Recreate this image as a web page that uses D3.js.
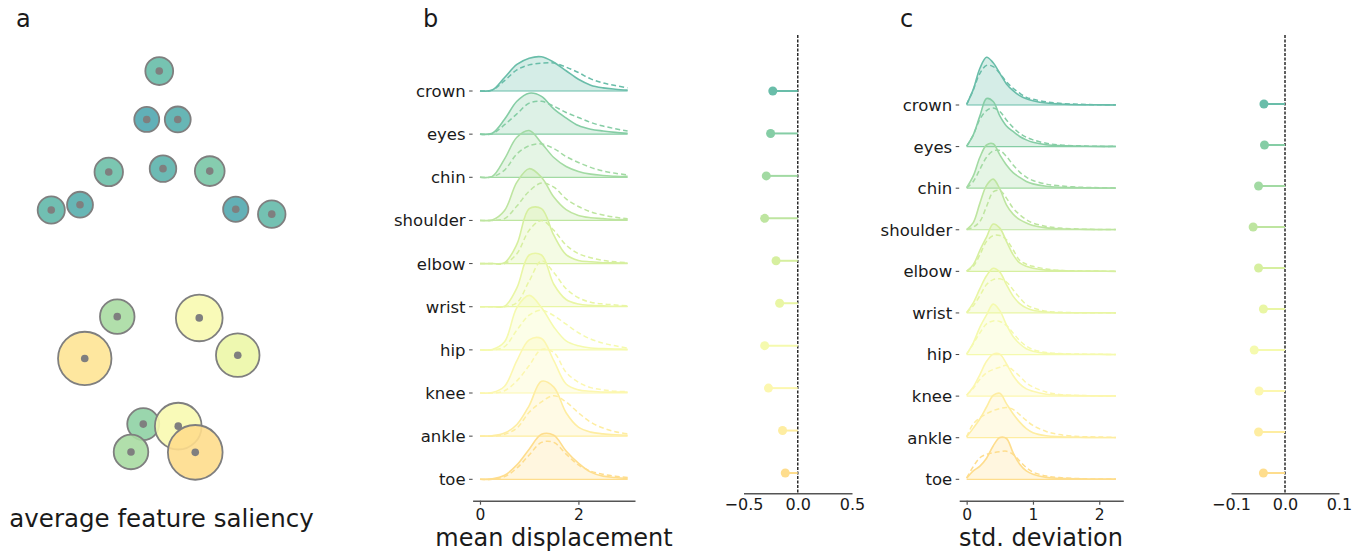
<!DOCTYPE html>
<html>
<head>
<meta charset="utf-8">
<script src="https://cdn.jsdelivr.net/npm/d3@7"></script>
<style>
  html, body { margin: 0; padding: 0; background: #fff; }
  svg { display: block; font-family: "DejaVu Sans", sans-serif; }
</style>
</head>
<body>
<svg id="fig" width="1367" height="552"></svg>
<script>
// ---------- data ----------
const rows = ["crown", "eyes", "chin", "shoulder", "elbow", "wrist", "hip", "knee", "ankle", "toe"];

// keypoint layout (arbitrary pose units) and average saliency per keypoint
const kpX = [47.7, 42.7, 55.1, 27.5, 49.2, 67.9, 4.5, 16.0, 78.3, 92.7, 30.9, 17.9, 63.7, 79.1, 41.3, 36.4, 55.3, 62.1];
const kpY = [2.7, 14.5, 14.5, 27.3, 26.5, 27.1, 36.6, 35.3, 36.4, 37.6, 62.6, 72.8, 62.9, 72.0, 88.8, 95.6, 89.3, 95.7];
const saliency = [0.12, 0.03, 0.06, 0.14, 0.08, 0.18, 0.10, 0.06, 0.04, 0.11, 0.33, 0.92, 0.71, 0.61, 0.25, 0.33, 0.71, 0.96];

// mean displacement: density grid and densities (solid = observed, dashed = reference)
const dispGrid = [0, 0.25, 0.5, 0.75, 1.0, 1.25, 1.5, 1.75, 2.0, 2.25, 2.5, 2.75, 3.0];
const dispDensity = [
  [0, 0.02, 0.30, 0.59, 0.73, 0.76, 0.64, 0.45, 0.26, 0.13, 0.07, 0.04, 0.02],
  [0, 0.02, 0.33, 0.73, 0.91, 0.84, 0.56, 0.36, 0.19, 0.11, 0.07, 0.04, 0.02],
  [0, 0.02, 0.41, 0.89, 1.04, 0.76, 0.44, 0.24, 0.13, 0.07, 0.04, 0.02, 0.02],
  [0, 0.01, 0.22, 0.85, 1.15, 0.96, 0.52, 0.24, 0.11, 0.06, 0.04, 0.02, 0.02],
  [0, 0, 0.02, 0.43, 1.22, 1.22, 0.63, 0.20, 0.07, 0.04, 0.02, 0.02, 0.01],
  [0, 0, 0.01, 0.42, 1.15, 1.15, 0.50, 0.16, 0.06, 0.03, 0.02, 0.01, 0.01],
  [0, 0.01, 0.18, 0.94, 1.21, 0.94, 0.51, 0.20, 0.09, 0.04, 0.03, 0.02, 0.01],
  [0, 0.01, 0.15, 0.72, 1.18, 1.21, 0.72, 0.20, 0.07, 0.04, 0.02, 0.02, 0.02],
  [0, 0.01, 0.07, 0.26, 0.68, 1.22, 1.09, 0.52, 0.20, 0.09, 0.05, 0.03, 0.02],
  [0, 0.01, 0.09, 0.32, 0.67, 1.00, 0.98, 0.63, 0.36, 0.16, 0.07, 0.04, 0.02]
];
const dispDensityRef = [
  [0, 0.02, 0.23, 0.47, 0.58, 0.62, 0.62, 0.53, 0.41, 0.27, 0.18, 0.12, 0.07],
  [0, 0.01, 0.21, 0.45, 0.69, 0.73, 0.62, 0.48, 0.37, 0.26, 0.18, 0.12, 0.07],
  [0, 0.01, 0.16, 0.52, 0.70, 0.74, 0.64, 0.46, 0.33, 0.22, 0.14, 0.09, 0.05],
  [0, 0, 0.04, 0.32, 0.65, 0.83, 0.74, 0.48, 0.31, 0.19, 0.12, 0.07, 0.04],
  [0, 0, 0, 0.22, 0.74, 0.96, 0.74, 0.41, 0.22, 0.13, 0.07, 0.04, 0.02],
  [0, 0, 0, 0.09, 0.57, 1.02, 0.76, 0.40, 0.20, 0.10, 0.06, 0.04, 0.02],
  [0, 0, 0.07, 0.44, 0.77, 0.88, 0.76, 0.57, 0.38, 0.24, 0.15, 0.09, 0.04],
  [0, 0, 0.05, 0.27, 0.61, 0.97, 0.90, 0.46, 0.24, 0.12, 0.07, 0.04, 0.03],
  [0, 0, 0.04, 0.18, 0.53, 0.76, 0.90, 0.76, 0.52, 0.31, 0.18, 0.10, 0.05],
  [0, 0, 0.06, 0.25, 0.54, 0.82, 0.82, 0.56, 0.32, 0.18, 0.11, 0.07, 0.04]
];

// std. deviation: density grid and densities
const sdGrid = [0, 0.1, 0.2, 0.3, 0.4, 0.5, 0.6, 0.7, 0.8, 0.9, 1.0, 1.2, 1.4, 1.7, 2.0, 2.25];
const sdDensity = [
  [0.03, 0.65, 1.53, 1.99, 1.76, 1.32, 0.88, 0.60, 0.39, 0.26, 0.18, 0.08, 0.04, 0.01, 0.01, 0.00],
  [0.02, 0.49, 1.28, 2.00, 1.88, 1.28, 0.86, 0.63, 0.42, 0.28, 0.18, 0.08, 0.04, 0.02, 0.01, 0.01],
  [0.02, 0.51, 1.29, 1.80, 1.85, 1.39, 0.97, 0.65, 0.45, 0.28, 0.18, 0.08, 0.04, 0.02, 0.01, 0.01],
  [0.01, 0.30, 1.11, 1.85, 2.11, 1.70, 1.04, 0.65, 0.42, 0.28, 0.18, 0.08, 0.04, 0.02, 0.01, 0.01],
  [0.01, 0.28, 0.88, 1.43, 1.97, 1.80, 1.25, 0.70, 0.35, 0.21, 0.13, 0.05, 0.03, 0.01, 0.01, 0.00],
  [0.02, 0.42, 1.01, 1.55, 1.86, 1.70, 1.18, 0.70, 0.39, 0.21, 0.11, 0.04, 0.01, 0.01, 0.01, 0.00],
  [0.02, 0.49, 1.14, 1.65, 2.10, 1.83, 1.24, 0.75, 0.45, 0.24, 0.14, 0.05, 0.03, 0.01, 0.01, 0.00],
  [0.04, 0.38, 0.90, 1.45, 1.75, 1.75, 1.35, 0.86, 0.51, 0.30, 0.20, 0.08, 0.04, 0.02, 0.01, 0.01],
  [0.04, 0.40, 0.79, 1.28, 1.76, 1.85, 1.42, 1.00, 0.65, 0.38, 0.21, 0.08, 0.04, 0.02, 0.01, 0.01],
  [0.04, 0.35, 0.55, 0.88, 1.39, 1.74, 1.70, 1.11, 0.63, 0.35, 0.21, 0.08, 0.04, 0.02, 0.01, 0.01]
];
const sdDensityRef = [
  [0.02, 0.63, 1.32, 1.65, 1.60, 1.32, 0.97, 0.70, 0.49, 0.32, 0.24, 0.13, 0.07, 0.03, 0.01, 0.01],
  [0.01, 0.49, 1.14, 1.50, 1.61, 1.46, 1.11, 0.80, 0.55, 0.39, 0.28, 0.14, 0.07, 0.03, 0.01, 0.01],
  [0.01, 0.28, 0.79, 1.29, 1.55, 1.57, 1.32, 0.97, 0.67, 0.46, 0.32, 0.17, 0.10, 0.04, 0.02, 0.01],
  [0.01, 0.11, 0.35, 0.97, 1.58, 1.64, 1.32, 0.90, 0.63, 0.42, 0.28, 0.14, 0.07, 0.03, 0.01, 0.01],
  [0.01, 0.21, 0.70, 1.25, 1.49, 1.49, 1.32, 0.90, 0.46, 0.30, 0.21, 0.10, 0.04, 0.02, 0.01, 0.00],
  [0.01, 0.30, 0.72, 1.18, 1.39, 1.42, 1.29, 0.97, 0.63, 0.35, 0.21, 0.07, 0.03, 0.01, 0.01, 0.00],
  [0.01, 0.45, 0.90, 1.28, 1.40, 1.38, 1.21, 0.90, 0.58, 0.35, 0.21, 0.08, 0.04, 0.02, 0.01, 0.00],
  [0.04, 0.33, 0.70, 0.97, 1.11, 1.20, 1.28, 1.07, 0.83, 0.55, 0.38, 0.17, 0.07, 0.03, 0.01, 0.01],
  [0.04, 0.58, 0.83, 1.00, 1.13, 1.21, 1.26, 1.18, 0.96, 0.72, 0.51, 0.26, 0.13, 0.05, 0.03, 0.01],
  [0.06, 0.53, 0.90, 1.04, 1.11, 1.15, 1.17, 1.04, 0.76, 0.49, 0.30, 0.14, 0.07, 0.03, 0.01, 0.01]
];

// differences (observed - reference)
const meanDiff = [-0.23, -0.25, -0.29, -0.305, -0.20, -0.167, -0.305, -0.27, -0.14, -0.115];
const sdDiff = [-0.039, -0.038, -0.049, -0.059, -0.049, -0.040, -0.057, -0.048, -0.049, -0.040];

// tick values
const dispTicks = [0, 2];
const sdTicks = [0, 1, 2];
const meanDiffTicks = [-0.5, 0.0, 0.5];
const sdDiffTicks = [-0.1, 0.0, 0.1];

// ---------- drawing ----------
const svg = d3.select("#fig");
const FONT = "DejaVu Sans, sans-serif";
const TEXT = "#1a1a1a";
const AXIS = "#555";
const fmtTick = d => d3.format(".1f")(d).replace("-", "\u2212");

const rowColor = d3.scalePoint().domain(rows).range([0.8, 0.4]);
const colorOf = r => d3.interpolateSpectral(rowColor(r));

// panel letters
[["a", 16], ["b", 423], ["c", 900]].forEach(([t, x]) => {
  svg.append("text").attr("x", x).attr("y", 27).attr("font-size", 24).attr("fill", TEXT).text(t);
});

// ----- panel a: saliency map -----
{
  const x = d3.scaleLinear().domain([0, 100]).range([40, 290]);
  const y = d3.scaleLinear().domain([0, 100]).range([60, 470]);
  const r = d3.scaleLinear().domain([0, 1]).range([12, 28]);
  const c = d3.scaleLinear().domain([0, 1]).range([0.86, 0.38]);
  const g = svg.append("g");
  saliency.forEach((s, i) => {
    g.append("circle").attr("cx", x(kpX[i])).attr("cy", y(kpY[i])).attr("r", r(s))
      .attr("fill", d3.interpolateSpectral(c(s))).attr("fill-opacity", 0.9)
      .attr("stroke", "#7f7f7f").attr("stroke-width", 1.8);
    g.append("circle").attr("cx", x(kpX[i])).attr("cy", y(kpY[i])).attr("r", 3.8).attr("fill", "#7f7f7f");
  });
  svg.append("text").attr("x", 161.5).attr("y", 527).attr("text-anchor", "middle")
    .attr("font-size", 24.5).attr("fill", TEXT).text("average feature saliency");
}

// ----- ridgeline panel -----
function ridge(opts) {
  const { grid, dens, ref, xDomain, xRange, yRange, pxPerDensity, ticks, axisY, label, labelX } = opts;
  const x = d3.scaleLinear().domain(xDomain).range(xRange);
  const row = d3.scalePoint().domain(rows).range(yRange);
  const g = svg.append("g");
  rows.forEach((name, i) => {
    const base = row(name);
    const h = d3.scaleLinear().domain([0, 1]).range([base, base - pxPerDensity]);
    const col = colorOf(name);
    const pts = grid.map((v, k) => [v, dens[i][k]]);
    const refPts = grid.map((v, k) => [v, ref[i][k]]);
    const area = d3.area().x(d => x(d[0])).y0(base).y1(d => h(Math.max(0, d[1]))).curve(d3.curveCatmullRom);
    const line = d3.line().x(d => x(d[0])).y(d => h(Math.max(0, d[1]))).curve(d3.curveCatmullRom);
    g.append("path").attr("d", area(pts)).attr("fill", col).attr("fill-opacity", 0.28);
    g.append("path").attr("d", line(refPts)).attr("fill", "none").attr("stroke", col)
      .attr("stroke-width", 1.5).attr("stroke-dasharray", "5,3");
    g.append("path").attr("d", line(pts)).attr("fill", "none").attr("stroke", col).attr("stroke-width", 1.6);
    g.append("line").attr("x1", x(grid[0])).attr("x2", x(grid[grid.length - 1]))
      .attr("y1", base).attr("y2", base).attr("stroke", col).attr("stroke-width", 1.2);
    // y tick + label
    g.append("line").attr("x1", xRange[0] - 3.5).attr("x2", xRange[0]).attr("y1", base).attr("y2", base)
      .attr("stroke", "#444").attr("stroke-width", 1);
    g.append("text").attr("x", xRange[0] - 7).attr("y", base).attr("dy", "0.36em")
      .attr("text-anchor", "end").attr("font-size", 16.5).attr("fill", TEXT).text(name);
  });
  const ax = d3.axisBottom(x).tickValues(ticks).tickSize(4).tickSizeOuter(0).tickPadding(4).tickFormat(d3.format("d"));
  const axg = svg.append("g").attr("transform", `translate(0,${axisY})`).call(ax);
  axg.select(".domain").attr("stroke", AXIS).attr("stroke-width", 1.6);
  axg.selectAll(".tick line").attr("stroke", AXIS).attr("stroke-width", 1.2);
  axg.selectAll(".tick text").attr("font-size", 15.5).attr("font-family", FONT).attr("fill", TEXT);
  svg.append("text").attr("x", labelX).attr("y", 546).attr("text-anchor", "middle")
    .attr("font-size", 24).attr("fill", TEXT).text(label);
}

// ----- lollipop panel -----
function lollipop(opts) {
  const { values, xDomain, xRange, yRange, ticks, axisY } = opts;
  const x = d3.scaleLinear().domain(xDomain).range(xRange);
  const row = d3.scalePoint().domain(rows).range(yRange);
  const g = svg.append("g");
  g.append("line").attr("x1", x(0)).attr("x2", x(0)).attr("y1", 35).attr("y2", axisY)
    .attr("stroke", "#2b2b2b").attr("stroke-width", 1.5).attr("stroke-dasharray", "3,1.5");
  rows.forEach((name, i) => {
    const col = colorOf(name);
    g.append("line").attr("x1", x(values[i])).attr("x2", x(0)).attr("y1", row(name)).attr("y2", row(name))
      .attr("stroke", col).attr("stroke-width", 2);
    g.append("circle").attr("cx", x(values[i])).attr("cy", row(name)).attr("r", 4.5).attr("fill", col);
  });
  const ax = d3.axisBottom(x).tickValues(ticks).tickSize(0).tickSizeOuter(0).tickPadding(5).tickFormat(fmtTick);
  const axg = svg.append("g").attr("transform", `translate(0,${axisY})`).call(ax);
  axg.select(".domain").attr("stroke", AXIS).attr("stroke-width", 1.6);
  axg.selectAll(".tick text").attr("font-size", 16).attr("font-family", FONT).attr("fill", TEXT);
}

ridge({
  grid: dispGrid, dens: dispDensity, ref: dispDensityRef,
  xDomain: [-0.15, 3.15], xRange: [472.6, 635], yRange: [91, 479.3], pxPerDensity: 45,
  ticks: dispTicks, axisY: 500.7, label: "mean displacement", labelX: 554
});
lollipop({
  values: meanDiff, xDomain: [-0.5, 0.5], xRange: [743.5, 852], yRange: [91, 473],
  ticks: meanDiffTicks, axisY: 493.3
});
ridge({
  grid: sdGrid, dens: sdDensity, ref: sdDensityRef,
  xDomain: [-0.1125, 2.3625], xRange: [959.2, 1123.3], yRange: [105, 479.3], pxPerDensity: 24,
  ticks: sdTicks, axisY: 500.7, label: "std. deviation", labelX: 1041
});
lollipop({
  values: sdDiff, xDomain: [-0.1, 0.1], xRange: [1231, 1339], yRange: [104, 473],
  ticks: sdDiffTicks, axisY: 493.3
});
</script>
</body>
</html>
